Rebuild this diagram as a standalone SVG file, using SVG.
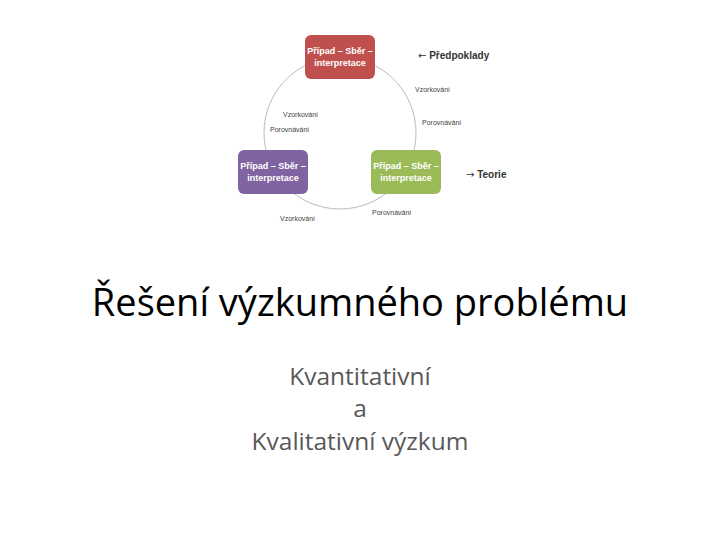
<svg xmlns="http://www.w3.org/2000/svg" width="720" height="540" viewBox="0 0 720 540">
<style>
.box text{font-family:"Liberation Sans",Arial,sans-serif;font-size:9px;font-weight:bold;fill:#fff;text-anchor:middle}
.lbl{font-family:"Liberation Sans",Arial,sans-serif;font-size:7px;fill:#444}
.side{font-family:"Liberation Sans",Arial,sans-serif;font-size:10px;font-weight:bold;fill:#333}
.arr{font-family:"DejaVu Sans",sans-serif;font-weight:normal}
.title{font-family:"Open Sans","Liberation Sans",sans-serif;font-size:38px;fill:#000;text-anchor:middle}
.sub{font-family:"Open Sans","Liberation Sans",sans-serif;font-size:24.5px;fill:#595959;text-anchor:middle}
</style>
<rect width="720" height="540" fill="#fff"/>
<g id="connectors">
<circle cx="340" cy="133" r="76" fill="none" stroke="#bbb" stroke-width="1"/>
</g>
<g id="node-red" class="box">
<rect x="305" y="35" width="70" height="44" rx="6" fill="#C0504D"/>
<text x="340" y="54">Případ – Sběr –</text>
<text x="340" y="66">interpretace</text>
</g>
<g id="node-purple" class="box">
<rect x="238" y="150" width="70" height="44" rx="6" fill="#8064A2"/>
<text x="273" y="169">Případ – Sběr –</text>
<text x="273" y="181">interpretace</text>
</g>
<g id="node-green" class="box">
<rect x="371" y="150" width="70" height="44" rx="6" fill="#9BBB59"/>
<text x="406" y="169">Případ – Sběr –</text>
<text x="406" y="181">interpretace</text>
</g>
<g id="labels">
<text class="side" x="418" y="59"><tspan class="arr">←</tspan> Předpoklady</text>
<text class="side" x="466" y="178"><tspan class="arr">→</tspan> Teorie</text>
<text class="lbl" x="415" y="92">Vzorkování</text>
<text class="lbl" x="422" y="125">Porovnávání</text>
<text class="lbl" x="283" y="117">Vzorkování</text>
<text class="lbl" x="270" y="132">Porovnávání</text>
<text class="lbl" x="280" y="221">Vzorkování</text>
<text class="lbl" x="372" y="215">Porovnávání</text>
</g>
<text class="title" x="360" y="316">Řešení výzkumného problému</text>
<text class="sub" x="360" y="385">Kvantitativní</text>
<text class="sub" x="360" y="417">a</text>
<text class="sub" x="360" y="450">Kvalitativní výzkum</text>
</svg>
